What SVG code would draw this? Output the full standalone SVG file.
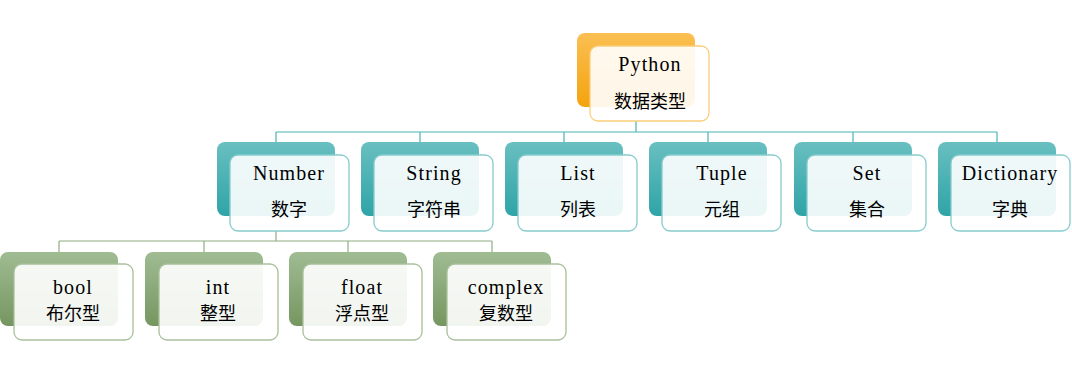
<svg xmlns="http://www.w3.org/2000/svg" width="1072" height="372" viewBox="0 0 1072 372">
<defs>
<linearGradient id="gO" x1="0" y1="0" x2="0" y2="1"><stop offset="0" stop-color="#FBBF52"/><stop offset="1" stop-color="#F4A30E"/></linearGradient>
<linearGradient id="gT" x1="0" y1="0" x2="0" y2="1"><stop offset="0" stop-color="#69BFC0"/><stop offset="1" stop-color="#2FA4A7"/></linearGradient>
<linearGradient id="gG" x1="0" y1="0" x2="0" y2="1"><stop offset="0" stop-color="#A0BC93"/><stop offset="1" stop-color="#759660"/></linearGradient>
</defs>
<style>
.bo{fill:url(#gO)} .bt{fill:url(#gT)} .bg{fill:url(#gG)}
.fo{fill:#FFFFFF;fill-opacity:0.9;stroke:#F9CD7A;stroke-width:1.3}
.ft{fill:#FFFFFF;fill-opacity:0.9;stroke:#86CBCD;stroke-width:1.3}
.fg{fill:#FFFFFF;fill-opacity:0.9;stroke:#A8C09C;stroke-width:1.3}
.en{font-family:"Liberation Serif","Times New Roman",serif;font-size:20px;letter-spacing:1.1px;fill:#000;text-anchor:middle}
.zh{font-family:"Noto Sans CJK SC",sans-serif;font-size:18px;font-weight:400;fill:#000;text-anchor:middle}
.ct{fill:none;stroke:#4BB3B6;stroke-width:1.2}
.cg{fill:none;stroke:#8EAE82;stroke-width:1.2}
</style>
<g id="connectors">
<path class="ct" d="M636 121V132M276 132H997M276 132V143M420 132V143M564 132V143M708 132V143M853 132V143M997 132V143"/>
<path class="cg" d="M276 231V241M59 241H492M59 241V253M204 241V253M348 241V253M492 241V253"/>
</g>
<g id="python">
<rect class="bo" x="577" y="33" width="118" height="74" rx="8"/>
<rect class="fo" x="590" y="46" width="119" height="75" rx="8"/>
<text class="en" x="650" y="71">Python</text>
<text class="zh" x="650" y="108">数据类型</text>
</g>
<g id="number">
<rect class="bt" x="217" y="142" width="118" height="74" rx="8"/>
<rect class="ft" x="230" y="155" width="119" height="76" rx="8"/>
<text class="en" x="289" y="180">Number</text>
<text class="zh" x="289" y="216">数字</text>
</g>
<g id="string">
<rect class="bt" x="361" y="142" width="118" height="74" rx="8"/>
<rect class="ft" x="374" y="155" width="119" height="76" rx="8"/>
<text class="en" x="434" y="180">String</text>
<text class="zh" x="434" y="216">字符串</text>
</g>
<g id="list">
<rect class="bt" x="505" y="142" width="118" height="74" rx="8"/>
<rect class="ft" x="518" y="155" width="119" height="76" rx="8"/>
<text class="en" x="578" y="180">List</text>
<text class="zh" x="578" y="216">列表</text>
</g>
<g id="tuple">
<rect class="bt" x="649" y="142" width="118" height="74" rx="8"/>
<rect class="ft" x="662" y="155" width="119" height="76" rx="8"/>
<text class="en" x="722" y="180">Tuple</text>
<text class="zh" x="722" y="216">元组</text>
</g>
<g id="set">
<rect class="bt" x="794" y="142" width="118" height="74" rx="8"/>
<rect class="ft" x="807" y="155" width="119" height="76" rx="8"/>
<text class="en" x="867" y="180">Set</text>
<text class="zh" x="867" y="216">集合</text>
</g>
<g id="dictionary">
<rect class="bt" x="938" y="142" width="118" height="74" rx="8"/>
<rect class="ft" x="951" y="155" width="119" height="76" rx="8"/>
<text class="en" x="1010" y="180">Dictionary</text>
<text class="zh" x="1010" y="216">字典</text>
</g>
<g id="bool">
<rect class="bg" x="0" y="252" width="118" height="74" rx="8"/>
<rect class="fg" x="14" y="264" width="119" height="76" rx="8"/>
<text class="en" x="73" y="294">bool</text>
<text class="zh" x="73" y="320">布尔型</text>
</g>
<g id="int">
<rect class="bg" x="145" y="252" width="118" height="74" rx="8"/>
<rect class="fg" x="159" y="264" width="119" height="76" rx="8"/>
<text class="en" x="218" y="294">int</text>
<text class="zh" x="218" y="320">整型</text>
</g>
<g id="float">
<rect class="bg" x="289" y="252" width="118" height="74" rx="8"/>
<rect class="fg" x="303" y="264" width="119" height="76" rx="8"/>
<text class="en" x="362" y="294">float</text>
<text class="zh" x="362" y="320">浮点型</text>
</g>
<g id="complex">
<rect class="bg" x="433" y="252" width="118" height="74" rx="8"/>
<rect class="fg" x="447" y="264" width="119" height="76" rx="8"/>
<text class="en" x="506" y="294">complex</text>
<text class="zh" x="506" y="320">复数型</text>
</g>
</svg>
